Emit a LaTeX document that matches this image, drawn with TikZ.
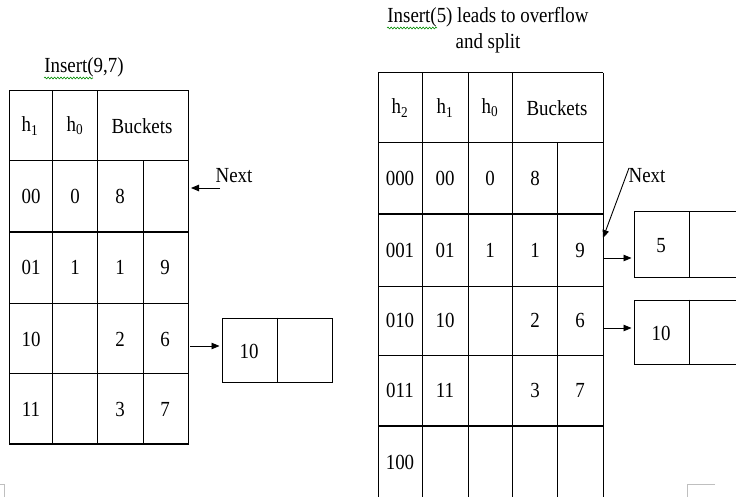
\documentclass[tikz,border=0pt]{standalone}
\usepackage{fontspec}
\setmainfont{Liberation Serif}[FakeStretch=0.88]
\usetikzlibrary{arrows.meta,decorations.pathmorphing}

\tikzset{
  lbl/.style={inner sep=0pt, font=\fontsize{21.5}{25}\selectfont},
  rule/.style={line width=1pt},
  heavy/.style={line width=2.2pt},
  ptr/.style={-{Triangle[length=8pt,width=6.5pt]}, line width=0.9pt},
  ovbox/.style={draw, line width=1pt, minimum width=110pt, inner sep=0pt},
  squiggle/.style={green!55!black, line width=0.6pt, decorate,
    decoration={snake, amplitude=0.9pt, segment length=3.2pt}},
  pagemark/.style={black!25, line width=1pt},
}

\begin{document}
\begin{tikzpicture}[x=1pt,y=-1pt]
    \useasboundingbox (0,0) rectangle (736,497);
    \clip (0,0) rectangle (736,497);

    % ---- before the split ----
    \node[lbl] (insl) at (84,67) {Insert(9,7)};
    \draw[squiggle] (44,78) -- (93,78);

    \draw[rule] (9,91) rectangle (188,444);
    \draw[rule] (52,91) -- (52,444);
    \draw[rule] (97,91) -- (97,444);
    \draw[rule] (143,161) -- (143,444);
    \draw[rule] (9,161) -- (188,161);
    \draw[rule] (9,303) -- (188,303);
    \draw[rule] (9,373) -- (188,373);
    \draw[heavy] (9,232) -- (188,232);
    \draw[heavy] (9,444) -- (188,444);

    \node[lbl] (lh1) at (30,126) {h\textsubscript{1}};
    \node[lbl] (lh0) at (75,126) {h\textsubscript{0}};
    \node[lbl] (lbk) at (142,126) {Buckets};

    \node[lbl] (la0) at (31,196) {00};
    \node[lbl] (lb0) at (75,196) {0};
    \node[lbl] (lc0) at (120,196) {8};

    \node[lbl] (la1) at (31,267) {01};
    \node[lbl] (lb1) at (75,267) {1};
    \node[lbl] (lc1) at (120,267) {1};
    \node[lbl] (ld1) at (165,267) {9};

    \node[lbl] (la2) at (31,339) {10};
    \node[lbl] (lc2) at (120,339) {2};
    \node[lbl] (ld2) at (165,339) {6};

    \node[lbl] (la3) at (31,409) {11};
    \node[lbl] (lc3) at (120,409) {3};
    \node[lbl] (ld3) at (165,409) {7};

    % next pointer and overflow page
    \node[lbl] (nextl) at (234,176) {Next};
    \coordinate (nl-from) at (220,188);
    \coordinate (nl-to) at (191,188);
    \draw[ptr] (nl-from) -- (nl-to);

    \node[ovbox, minimum height=64pt] (ovl) at (277,350) {};
    \draw[rule] (ovl.north) -- (ovl.south);
    \node[lbl] (ovl10) at (249,351) {10};
    \coordinate (l10) at (190,346);
    \draw[ptr, shorten >=2pt] (l10) -- (l10 -| ovl.west);

    % ---- after the split ----
    \node[lbl] (insr) at (488,17) {Insert(5) leads to overflow};
    \node[lbl] (insr2) at (488,43) {and split};
    \draw[squiggle] (387,28) -- (437,28);

    \draw[rule] (378,73) -- (603,73);
    \draw[rule] (378,73) -- (378,497);
    \draw[rule] (422,73) -- (422,497);
    \draw[rule] (468,73) -- (468,497);
    \draw[rule] (512,73) -- (512,497);
    \draw[rule] (557,143) -- (557,497);
    \draw[rule] (603,73) -- (603,497);
    \draw[rule] (378,143) -- (603,143);
    \draw[rule] (378,286) -- (603,286);
    \draw[rule] (378,355) -- (603,355);
    \draw[heavy] (378,214) -- (603,214);
    \draw[heavy] (378,426) -- (603,426);

    \node[lbl] (rh2) at (400,108) {h\textsubscript{2}};
    \node[lbl] (rh1) at (445,108) {h\textsubscript{1}};
    \node[lbl] (rh0) at (490,108) {h\textsubscript{0}};
    \node[lbl] (rbk) at (557,108) {Buckets};

    \node[lbl] (ra0) at (400,178) {000};
    \node[lbl] (rb0) at (445,178) {00};
    \node[lbl] (rc0) at (490,178) {0};
    \node[lbl] (rd0) at (535,178) {8};

    \node[lbl] (ra1) at (400,250) {001};
    \node[lbl] (rb1) at (445,250) {01};
    \node[lbl] (rc1) at (490,250) {1};
    \node[lbl] (rd1) at (535,250) {1};
    \node[lbl] (re1) at (580,250) {9};

    \node[lbl] (ra2) at (400,320) {010};
    \node[lbl] (rb2) at (445,320) {10};
    \node[lbl] (rd2) at (535,320) {2};
    \node[lbl] (re2) at (580,320) {6};

    \node[lbl] (ra3) at (400,390) {011};
    \node[lbl] (rb3) at (445,390) {11};
    \node[lbl] (rd3) at (535,390) {3};
    \node[lbl] (re3) at (580,390) {7};

    \node[lbl] (ra4) at (400,462) {100};

    % next pointer and overflow pages
    \node[lbl] (nextr) at (647,176) {Next};
    \coordinate (nr-from) at (629,168);
    \coordinate (nr-to) at (603,238);
    \draw[ptr] (nr-from) -- (nr-to);

    \node[ovbox, minimum height=65pt] (ov5) at (689,244.5) {};
    \draw[rule] (ov5.north) -- (ov5.south);
    \node[lbl] (ov5v) at (661,246) {5};
    \coordinate (r001) at (604,258);
    \draw[ptr, shorten >=2pt] (r001) -- (r001 -| ov5.west);

    \node[ovbox, minimum height=64pt] (ov10) at (689,332) {};
    \draw[rule] (ov10.north) -- (ov10.south);
    \node[lbl] (ov10v) at (661,333) {10};
    \coordinate (r010) at (604,328);
    \draw[ptr, shorten >=2pt] (r010) -- (r010 -| ov10.west);

    % page corner marks
    \draw[pagemark] (0,484) -- (4,484) -- (4,497);
    \draw[pagemark] (715,484) -- (687,484) -- (687,497);
\end{tikzpicture}
\end{document}
